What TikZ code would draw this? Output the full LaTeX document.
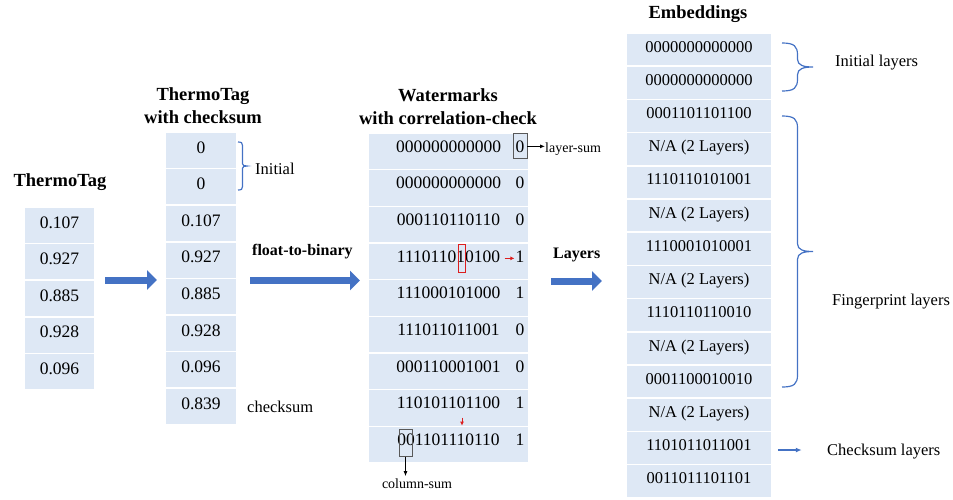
\documentclass[tikz,border=0pt]{standalone}
\usepackage{fontspec}
\setmainfont{Liberation Serif}
\usetikzlibrary{arrows.meta}
\definecolor{cellblue}{RGB}{222,232,245}
\definecolor{markblue}{RGB}{68,114,196}
\definecolor{boxgray}{RGB}{89,89,89}
\definecolor{markred}{RGB}{220,30,30}
\tikzset{
  coltitle/.style={font=\fontsize{18.5}{22}\selectfont\bfseries,inner sep=0pt,anchor=base},
  cell/.style={fill=cellblue,draw=white,line width=1.5pt,inner sep=0pt,text depth=6pt,
               font=\fontsize{17.5}{20}\selectfont},
  tagcell/.style={cell,minimum width=71pt,minimum height=36.6pt},
  sumcell/.style={cell,minimum width=72pt,minimum height=36.6pt},
  wmcell/.style={cell,minimum width=161pt,minimum height=36.67pt,text depth=10pt},
  embcell/.style={cell,minimum width=146pt,minimum height=33.2pt,font=\fontsize{16.5}{19}\selectfont},
  bit/.style={inner sep=0pt,text depth=10pt,font=\fontsize{17.5}{20}\selectfont},
  note/.style={inner sep=0pt,font=\fontsize{16.5}{19}\selectfont},
  smallnote/.style={inner sep=0pt,font=\fontsize{14}{16}\selectfont},
  boldnote/.style={note,font=\fontsize{16}{19}\selectfont\bfseries},
  sumbox/.style={draw=boxgray,line width=0.8pt,minimum width=14pt,minimum height=25pt,inner sep=0pt},
  redbox/.style={draw=markred,line width=0.9pt,minimum width=7pt,minimum height=28pt,inner sep=0pt},
  bigarrow/.style={line width=7pt,draw=markblue,-{Triangle[length=10pt,width=19pt]}},
  blackarrow/.style={line width=0.8pt,-{Latex[length=5pt,width=4pt]}},
  redarrow/.style={markred,line width=0.9pt,-{Latex[length=4pt,width=4pt]}},
  bluearrow/.style={markblue,line width=1.2pt,-{Latex[length=6pt,width=5pt]}},
  bracket/.style={draw=markblue,line width=1.2pt},
}
% curly bracket opening to the right: x, top, bottom, depth
\newcommand{\bluebrace}[4]{%
  \draw[bracket] (#1,#2) .. controls ({#1+0.4*#4},#2) and ({#1+0.5*#4},{#2+0.1*#4}) .. ({#1+0.5*#4},{#2+0.4*#4})
    -- ({#1+0.5*#4},{(#2+#3)/2-0.25*#4})
    .. controls ({#1+0.5*#4},{(#2+#3)/2-0.05*#4}) and ({#1+0.7*#4},{(#2+#3)/2}) .. ({#1+#4},{(#2+#3)/2})
    .. controls ({#1+0.7*#4},{(#2+#3)/2}) and ({#1+0.5*#4},{(#2+#3)/2+0.05*#4}) .. ({#1+0.5*#4},{(#2+#3)/2+0.25*#4})
    -- ({#1+0.5*#4},{#3-0.4*#4})
    .. controls ({#1+0.5*#4},{#3-0.1*#4}) and ({#1+0.4*#4},#3) .. (#1,#3);}

\begin{document}
\begin{tikzpicture}[x=1pt,y=-1pt]
  \useasboundingbox (0,0) rectangle (953,499);
  % column titles
  \node[coltitle] (t0) at (60,186) {ThermoTag};
  \node[coltitle] (c0a) at (203,100) {ThermoTag};
  \node[coltitle] (c0b) at (203,123) {with checksum};
  \node[coltitle] (w0a) at (448,101) {Watermarks};
  \node[coltitle] (w0b) at (448,124) {with correlation-check};
  \node[coltitle] (e0) at (698,18.5) {Embeddings};
  % columns
  \foreach \v [count=\i] in {0.107,0.927,0.885,0.928,0.096}
    \node[tagcell] (t\i) at (59.5,{207+(\i-0.5)*36.6}) {\v};
  \foreach \v [count=\i] in {0,0,0.107,0.927,0.885,0.928,0.096,0.839}
    \node[sumcell] (c\i) at (201,{132+(\i-0.5)*36.6}) {\v};
  \foreach \b/\s [count=\i] in {000000000000/0,000000000000/0,000110110110/0,111011010100/1,
      111000101000/1,111011011001/0,000110001001/0,110101101100/1,001101110110/1}{
    \node[wmcell] (w\i) at (448.5,{133+(\i-0.5)*36.67}) {\b};
    \node[bit] (ws\i) at (520,{133+(\i-0.5)*36.67}) {\s};
  }
  \foreach \e [count=\i] in {0000000000000,0000000000000,0001101101100,{N/A (2 Layers)},
      1110110101001,{N/A (2 Layers)},1110001010001,{N/A (2 Layers)},1110110110010,
      {N/A (2 Layers)},0001100010010,{N/A (2 Layers)},1101011011001,0011011101101}
    \node[embcell] (e\i) at (699,{33+(\i-0.5)*33.2}) {\e};
  % checks on the watermarks
  \node[sumbox] (lsbox) at ([yshift=5pt]ws1.center) {};
  \node[smallnote,anchor=base west] (lsl) at (545,152) {layer-sum};
  \draw[blackarrow] (lsbox.east) -- (lsbox.east -| lsl.west);
  \node[redbox] (rb) at ([xshift=13pt,yshift=3pt]w4.center) {};
  \draw[redarrow] ([xshift=56pt,yshift=3pt]w4.center) -- ([xshift=-1pt,yshift=3pt]ws4.west);
  \draw[redarrow] ([xshift=13.5pt,yshift=8pt]w9.north) -- ([xshift=13.5pt]w9.north);
  \node[sumbox,minimum width=13pt,minimum height=27pt] (csbox) at ([xshift=-43pt,yshift=2pt]w9.center) {};
  \node[smallnote,anchor=base] (csl) at (417,488) {column-sum};
  \draw[blackarrow,shorten >=2pt] (csbox.south) -- (csbox.south |- csl.north);
  % steps
  \coordinate (a1s) at (105,280); \coordinate (a1e) at (157,280);
  \coordinate (a2s) at (250,280.5); \coordinate (a2e) at (360,280.5);
  \coordinate (a3s) at (551,281); \coordinate (a3e) at (602,281);
  \draw[bigarrow] (a1s) -- (a1e);
  \draw[bigarrow] (a2s) -- (a2e);
  \draw[bigarrow] (a3s) -- (a3e);
  \node[boldnote,anchor=base west] (f2b) at (252,255) {float-to-binary};
  \node[boldnote,anchor=base west] (lay) at (553,258) {Layers};
  % side notes
  \node[note,anchor=base west] (ini) at (255,174) {Initial};
  \node[note,anchor=base west] (chk) at (247,412) {checksum};
  \node[note,anchor=base west] (inl) at (835,66) {Initial layers};
  \node[note,anchor=base west] (fpl) at (832,305) {Fingerprint layers};
  \node[note,anchor=base west] (ckl) at (827,455) {Checksum layers};
  \coordinate (ckend) at ([xshift=29pt,yshift=-2pt]e13.east);
  \draw[bluearrow] ([xshift=5pt,yshift=-2pt]e13.east) -- (ckend);
  \bluebrace{238}{142}{190}{9}
  \bluebrace{782}{43}{91}{31}
  \bluebrace{782}{116}{387}{31}
\end{tikzpicture}
\end{document}
